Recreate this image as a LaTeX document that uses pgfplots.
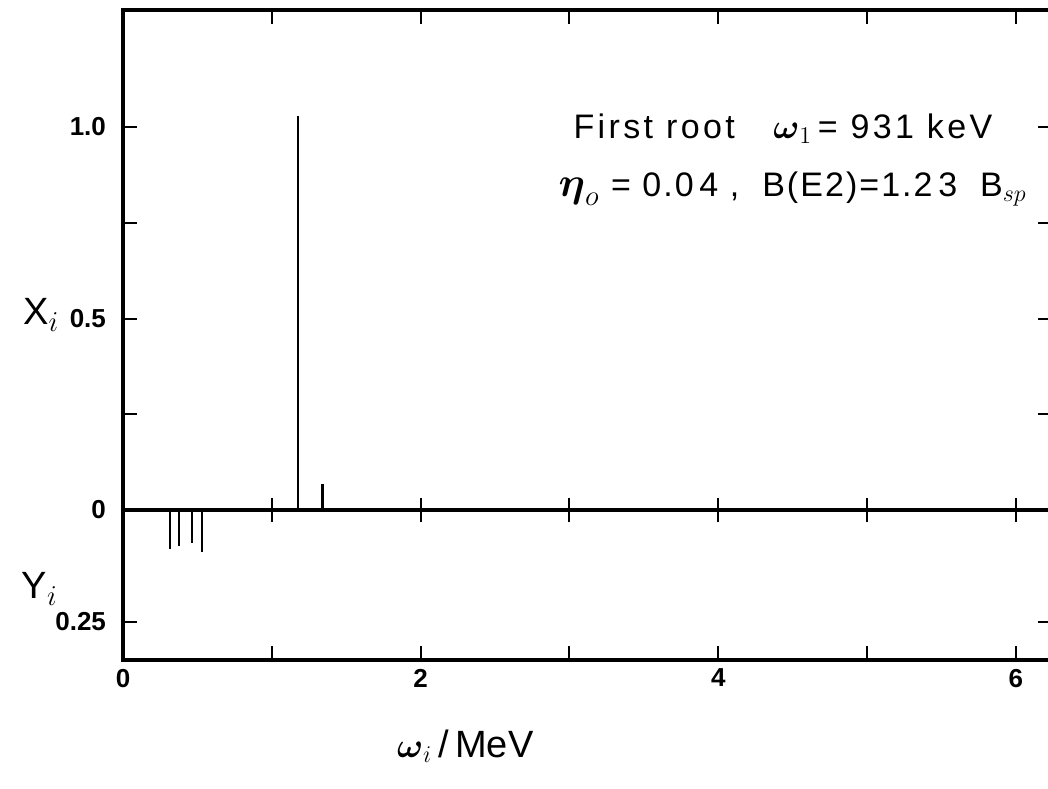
\documentclass[border=0pt]{standalone}
\usepackage{amsmath}
\usepackage{fontspec}
\setmainfont{Liberation Sans}
\usepackage{pgfplots}
\pgfplotsset{compat=1.18}
\begin{document}
\begin{tikzpicture}
\begin{axis}[
  scale only axis,
  width=464.5pt, height=325pt,
  xmin=0, xmax=6.243,
  ymin=-0.3916, ymax=1.3055,
  axis line style={line width=1.7pt},
  xtick={0,1,2,3,4,5,6},
  xticklabels={0,,2,,4,,6},
  ytick={-0.2924,0,0.25,0.5,0.75,1},
  yticklabels={0.25,0,,0.5,,1.0},
  major tick length=7pt,
  tick style={line width=1pt, black},
  tick label style={font=\fontsize{13}{15}\selectfont\bfseries},
  yticklabel style={xshift=-5pt},
  xticklabel style={yshift=-1pt},
  /pgf/number format/assume math mode=true,
  clip=false,
]
% zero line with crossing ticks
\addplot[black, line width=1.6pt, no marks] coordinates {(0,0) (6.243,0)};
\foreach \k in {1,...,6} {
  \edef\tmp{\noexpand\draw[line width=1pt] (axis cs:\k,-0.032) -- (axis cs:\k,0.032);}
  \tmp
}
% X_i amplitudes
\addplot[ycomb, black, line width=1.3pt, no marks] coordinates {
  (1.176,1.029) (1.340,0.068)
};
% Y_i amplitudes (drawn below the zero line)
\addplot[ycomb, black, line width=1.3pt, no marks] coordinates {
  (0.316,-0.102) (0.376,-0.094) (0.464,-0.086) (0.531,-0.110)
};
\node[anchor=west, font=\fontsize{17}{19}\selectfont] at (axis cs:2.98,0.995)
  {\addfontfeature{LetterSpace=10}First root\ \ \ $\boldsymbol{\omega}_{1}$\,= 931 keV};
\node[anchor=west, font=\fontsize{17}{19}\selectfont] at (axis cs:2.88,0.838)
  {\addfontfeature{LetterSpace=6}{\huge$\boldsymbol{\eta}_{o}$}\ = 0.0\,4\ ,\ \ B(E2)=1.2\,3\ \ B$_{sp}$};
\node[font=\fontsize{19}{21}\selectfont] at (axis cs:-0.55,0.51) {X$_{i}$};
\node[font=\fontsize{19}{21}\selectfont] at (axis cs:-0.56,-0.205) {Y$_{i}$};
\node[font=\fontsize{19}{21}\selectfont] at (axis cs:2.3,-0.616) {{\LARGE$\boldsymbol{\omega}_{i}$}\,/\,MeV};
\end{axis}
\pgfresetboundingbox
\path[use as bounding box] ([shift={(-61.5pt,-64pt)}]current axis.south west) rectangle ++(524pt,394pt);
\end{tikzpicture}
\end{document}
